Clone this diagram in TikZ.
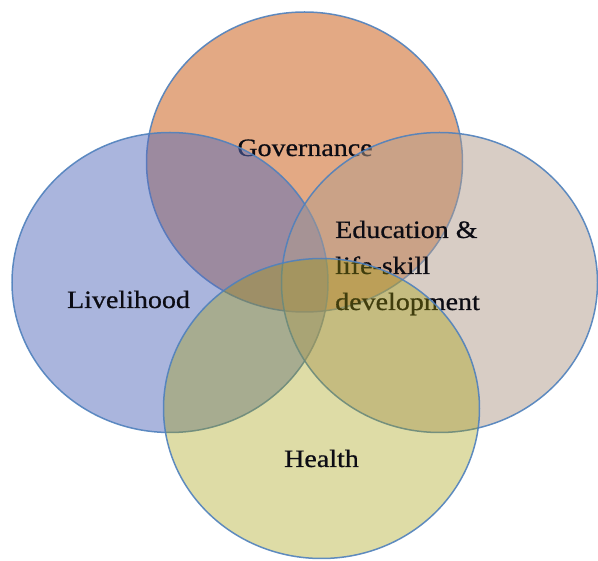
\documentclass[tikz,border=0pt]{standalone}
\usepackage{fontspec}
\setmainfont[FakeStretch=1.12,FakeBold=0.7]{Liberation Serif}
\usetikzlibrary{shapes.geometric}
\definecolor{edgeblue}{RGB}{79,129,189}
\definecolor{govfill}{RGB}{200,84,10}
\definecolor{livfill}{RGB}{86,108,188}
\definecolor{edufill}{RGB}{178,156,140}
\definecolor{healthfill}{RGB}{161,155,0}
\definecolor{txt}{RGB}{12,12,20}
\begin{document}
\begin{tikzpicture}[x=1pt,y=-1pt,
  venn/.style={ellipse, draw=edgeblue, draw opacity=0.9, line width=1.5pt,
    fill opacity=0.5, minimum width=316pt, minimum height=300pt, inner sep=0pt},
  lab/.style={font=\fontsize{25}{30}\selectfont, text=txt, inner sep=0pt}]
\useasboundingbox (0,0) rectangle (598,561);
\node[venn, fill=govfill] (gov) at (304.5,162) {};
\node[lab, anchor=base] (govt) at (305,156) {Governance};
\node[venn, fill=livfill] (liv) at (170,282.5) {};
\node[lab, anchor=base] (livt) at (128.5,308) {Livelihood};
\node[venn, fill=edufill] (edu) at (439.5,282.5) {};
\node[lab, anchor=base west] (edut1) at (335,238) {Education \&};
\node[lab, anchor=base west] (edut2) at (335,274) {life-skill};
\node[lab, anchor=base west] (edut3) at (335,310) {development};
\node[venn, fill=healthfill, fill opacity=0.35] (hea) at (321.5,408.5) {};
\node[lab, anchor=base] (heat) at (321.5,467) {Health};
\end{tikzpicture}
\end{document}
